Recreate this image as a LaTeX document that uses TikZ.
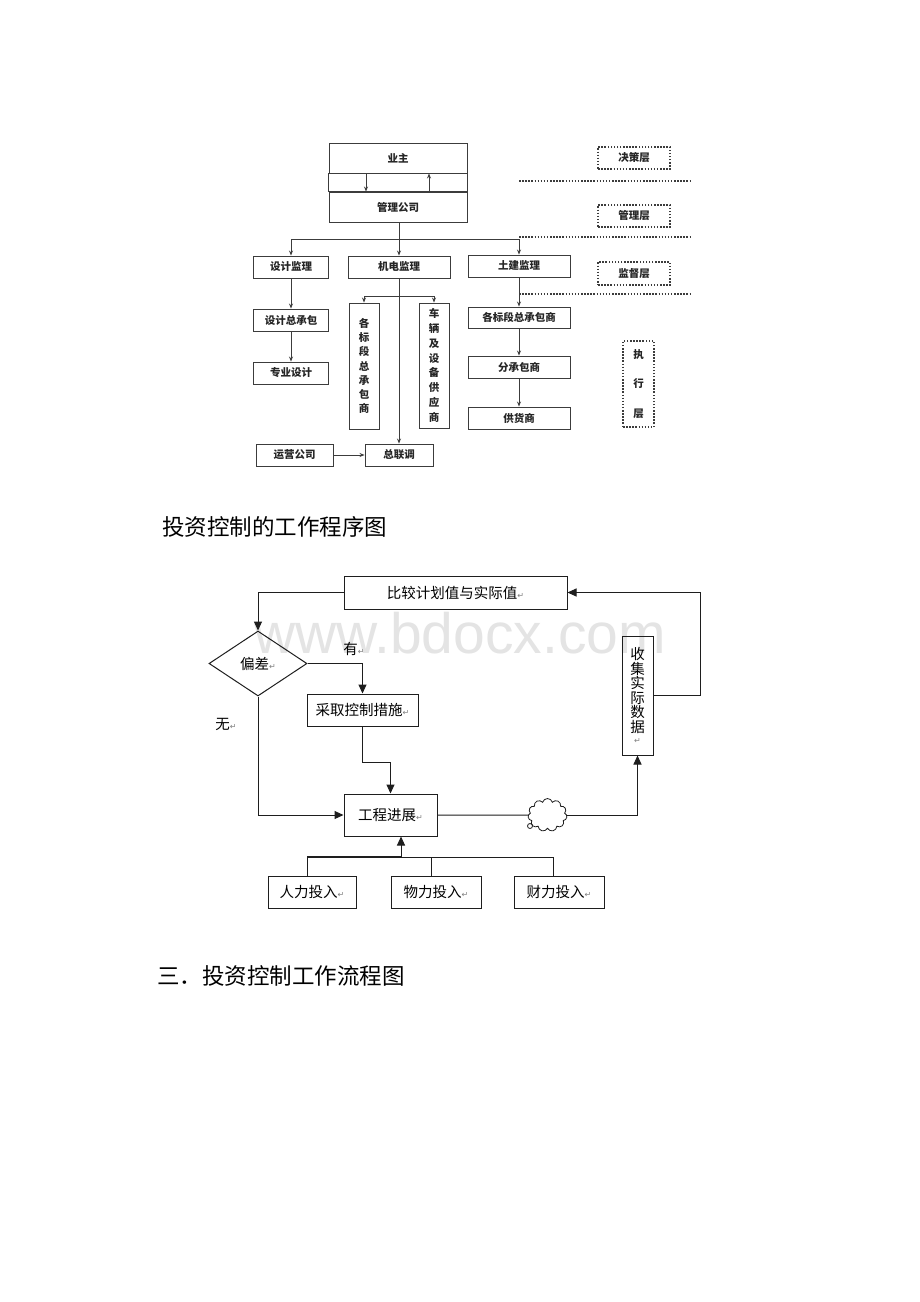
\documentclass[tikz,border=0pt]{standalone}
\usepackage{fontspec}
\setmainfont{Noto Sans CJK SC}
\newfontfamily\djv{DejaVu Sans}
\newfontfamily\wmfont{Liberation Sans}
\usetikzlibrary{arrows.meta,shapes.geometric,shapes.symbols}
\definecolor{tline}{HTML}{3C3C3C}
\definecolor{ttext}{HTML}{262626}
\definecolor{bline}{HTML}{1E1E1E}
\definecolor{wmcol}{HTML}{E4E4E4}
\newcommand\pmk{{\djv\fontsize{8}{8}\selectfont\textcolor{gray}{↵}}}
\tikzset{
  tbox/.style={draw=tline, line width=0.9pt, inner sep=0pt, text=ttext, font=\fontsize{10.5}{10.5}\selectfont\bfseries},
  tvbox/.style={tbox, align=center},
  dbox/.style={draw=tline, line width=1.2pt, dash pattern=on 1.5pt off 1.6pt, inner sep=0pt, text=ttext, font=\fontsize{10.5}{10.5}\selectfont\bfseries},
  dline/.style={draw=tline, line width=1.2pt, dash pattern=on 1.5pt off 1.6pt},
  tl/.style={draw=tline, line width=0.9pt},
  tarr/.style={tl, -{Stealth[length=5pt,width=4pt]}},
  bbox/.style={draw=bline, line width=1pt, inner sep=0pt, font=\fontsize{14.5}{14.5}\selectfont},
  bl/.style={draw=bline, line width=1pt},
  barr/.style={bl, -{Triangle[length=9pt,width=8pt]}},
  lbl/.style={inner sep=0pt, font=\fontsize{14.5}{14.5}\selectfont},
  captxt/.style={anchor=west, inner sep=0pt, font=\fontsize{22.5}{22.5}\selectfont}
}
\begin{document}
\begin{tikzpicture}[x=1pt,y=-1pt]
\fill[white] (0,0) rectangle (920,1302);
\useasboundingbox (0,0) rectangle (920,1302);

% ---------- top organisation chart ----------
\node[tbox, minimum width=138pt, minimum height=30pt] (yz) at (398,158) {业主};
\node[tbox, minimum width=138pt, minimum height=30pt] (glgs) at (398,207) {管理公司};
\draw[tl] (yz.south west) rectangle (glgs.north east);
\coordinate (dnx) at (366,0);
\coordinate (upx) at (429,0);
\draw[tarr] (yz.south -| dnx) -- (glgs.north -| dnx);
\draw[tarr] (glgs.north -| upx) -- (yz.south -| upx);

\node[tbox, minimum width=75pt, minimum height=22pt] (sjjl) at (291,267) {设计监理};
\node[tbox, minimum width=102pt, minimum height=22pt] (jdjl) at (399,267) {机电监理};
\node[tbox, minimum width=102pt, minimum height=22pt] (tjjl) at (519,266) {土建监理};

\coordinate (bus) at (399,239);
\draw[tl] (glgs.south -| bus) -- (bus);
\draw[tl] (sjjl.north |- bus) -- (tjjl.north |- bus);
\draw[tarr] (sjjl.north |- bus) -- (sjjl.north);
\draw[tarr] (bus) -- (jdjl.north);
\draw[tarr] (tjjl.north |- bus) -- (tjjl.north);

\node[tbox, minimum width=75pt, minimum height=22pt] (sjzcb) at (291,320) {设计总承包};
\node[tbox, minimum width=75pt, minimum height=22pt] (zysj) at (291,373) {专业设计};
\draw[tarr] (sjjl.south) -- (sjzcb.north);
\draw[tarr] (sjzcb.south) -- (zysj.north);

\node[tvbox, minimum width=30pt, minimum height=126pt, font=\fontsize{10.5}{14.3}\selectfont\bfseries] (gbd1) at (364,366) {各\\标\\段\\总\\承\\包\\商};
\node[tvbox, minimum width=30pt, minimum height=125pt, font=\fontsize{10.5}{14.8}\selectfont\bfseries] (clsb) at (434,365.5) {车\\辆\\及\\设\\备\\供\\应\\商};
\node[tbox, minimum width=68pt, minimum height=22pt] (zlt) at (399,455) {总联调};
\node[tbox, minimum width=77pt, minimum height=22pt] (yygs) at (294.5,455) {运营公司};
\coordinate (jb) at (399,296);
\draw[tarr] (jdjl.south) -- (zlt.north);
\draw[tl] (gbd1.north |- jb) -- (clsb.north |- jb);
\draw[tarr] (gbd1.north |- jb) -- (gbd1.north);
\draw[tarr] (clsb.north |- jb) -- (clsb.north);
\draw[tarr] (yygs.east) -- (zlt.west);

\node[tbox, minimum width=102pt, minimum height=21pt] (gbd2) at (519,317.5) {各标段总承包商};
\node[tbox, minimum width=102pt, minimum height=22pt] (fcb) at (519,367) {分承包商};
\node[tbox, minimum width=102pt, minimum height=22pt] (ghs) at (519,418) {供货商};
\draw[tarr] (tjjl.south) -- (gbd2.north);
\draw[tarr] (gbd2.south) -- (fcb.north);
\draw[tarr] (fcb.south) -- (ghs.north);

\node[dbox, minimum width=72pt, minimum height=22pt] (jcc) at (634,158) {决策层};
\node[dbox, minimum width=72pt, minimum height=22pt] (glc) at (634,216) {管理层};
\node[dbox, minimum width=72pt, minimum height=23pt] (jdc) at (634,273.5) {监督层};
\node[dbox, align=center, minimum width=31pt, minimum height=86pt, font=\fontsize{10.5}{29.6}\selectfont\bfseries] (zxc) at (638.5,384) {执\\行\\层};
\coordinate (d1a) at (519,181); \coordinate (d1b) at (690,181);
\coordinate (d2a) at (519,237); \coordinate (d2b) at (690,237);
\coordinate (d3a) at (519,294); \coordinate (d3b) at (690,294);
\draw[dline] (d1a) -- (d1b);
\draw[dline] (d2a) -- (d2b);
\draw[dline] (d3a) -- (d3b);

% ---------- caption 1 ----------
\node[captxt] (cap1) at (162,527) {投资控制的工作程序图};

% ---------- watermark ----------
\node[anchor=base, inner sep=0pt, text=wmcol, font=\wmfont\fontsize{57}{57}\selectfont] (wm) at (460,653) {www.bdocx.com};

% ---------- bottom flow chart ----------
\node[bbox, minimum width=223pt, minimum height=33pt] (bj) at (455.5,592.5) {比较计划值与实际值\pmk};
\node[bbox, diamond, aspect=1.5, minimum width=98pt, minimum height=65pt] (pc) at (258,663.5) {偏差\pmk};
\node[bbox, minimum width=111pt, minimum height=32pt] (cq) at (362.5,710) {采取控制措施\pmk};
\node[bbox, minimum width=93pt, minimum height=42pt] (gc) at (390.5,815) {工程进展\pmk};
\node[bbox, align=center, minimum width=31pt, minimum height=119pt, font=\fontsize{14.5}{14.5}\selectfont] (sj) at (637.5,695.5) {收\\集\\实\\际\\数\\据\\[-3pt]{\pmk}};
\node[cloud, cloud puffs=11, aspect=1.2, draw=bline, line width=0.8pt, inner sep=0pt, minimum width=39pt, minimum height=33pt] (cld) at (547.5,815) {};
\node[draw=bline, line width=0.8pt, circle, inner sep=0pt, minimum size=5pt] (tail) at (530,826) {};
\node[lbl] (you) at (354,649) {有\pmk};
\node[lbl] (wu) at (226,724) {无\pmk};

\draw[barr] (bj.west) -| (pc.north);
\draw[barr] (pc.east) -| (cq.north);
\draw[barr] (pc.south) |- (gc.west);
\draw[barr] (cq.south) -- ++(0,36) -| (gc.north);
\draw[bl] (gc.east) -- (cld.west);
\draw[barr] (cld.east) -| (sj.south);
\draw[barr] (sj.east) -- ++(46.5,0) |- (bj.east);

\node[bbox, minimum width=88pt, minimum height=32pt] (rl) at (312,892) {人力投入\pmk};
\node[bbox, minimum width=90pt, minimum height=32pt] (wl) at (436,892) {物力投入\pmk};
\node[bbox, minimum width=90pt, minimum height=32pt] (cl) at (559,892) {财力投入\pmk};
\coordinate (ib) at (401,857);
\draw[bl] ([xshift=-5pt]rl.north) |- ([xshift=-6pt]cl.north |- ib) -- ([xshift=-6pt]cl.north);
\draw[bl] ([xshift=-5pt]wl.north) -- ([xshift=-5pt]wl.north |- ib);
\draw[bl, line width=1.6pt] ([xshift=-5pt]rl.north |- ib) -- (ib);
\draw[barr] (ib) -- (ib |- gc.south);

% ---------- caption 2 ----------
\node[captxt] (cap2) at (157,976) {三．投资控制工作流程图};
\end{tikzpicture}
\end{document}
